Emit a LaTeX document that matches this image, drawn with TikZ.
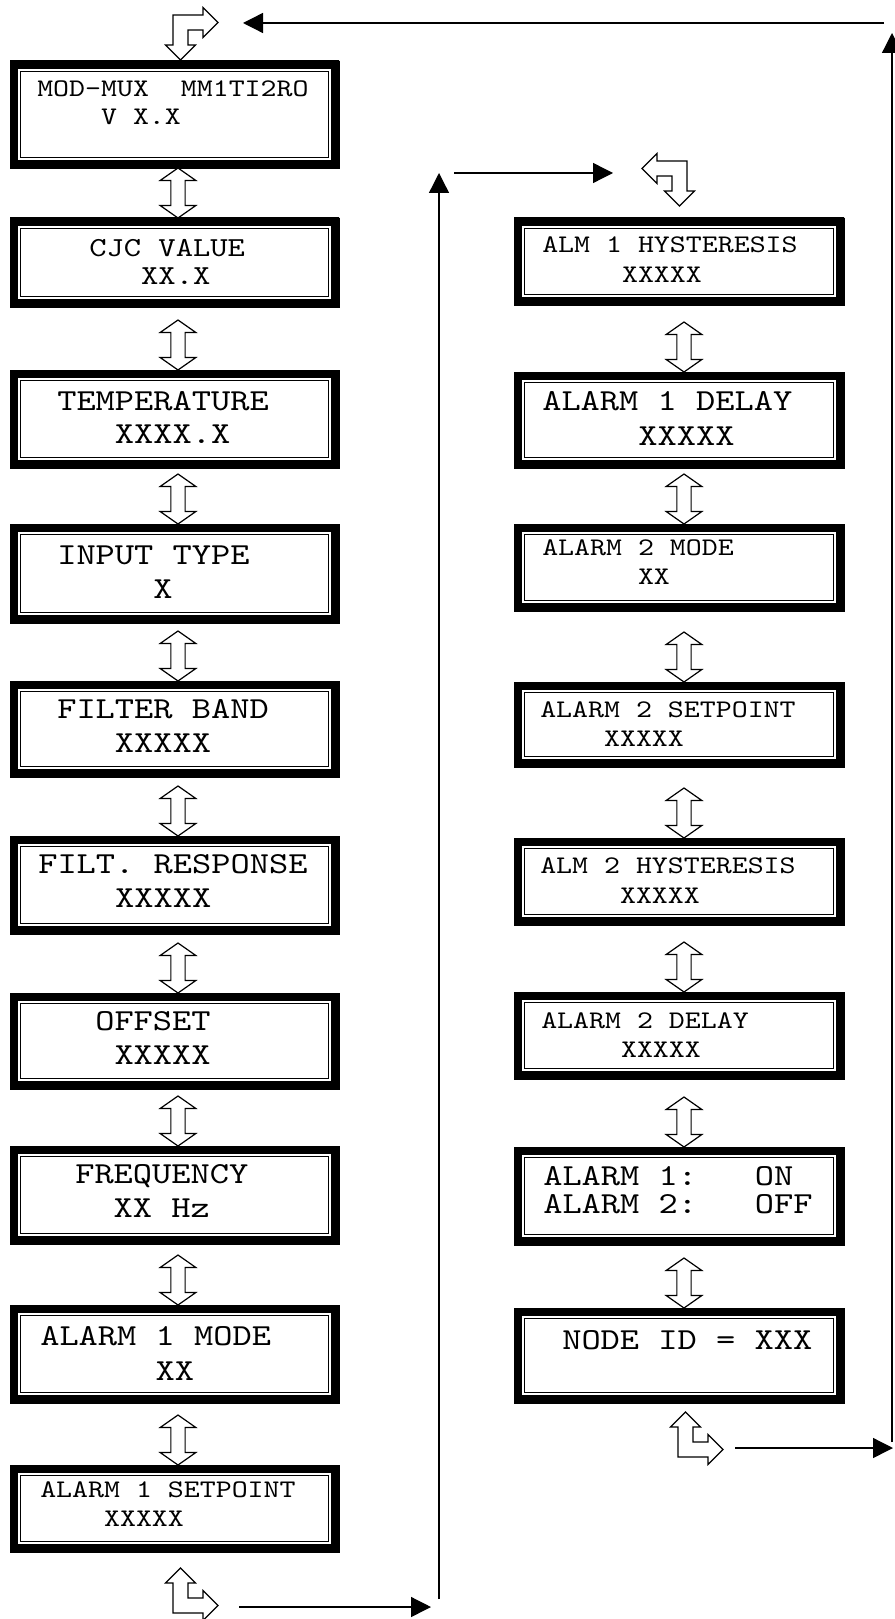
\documentclass[tikz,border=0pt]{standalone}
\usepackage{fontspec}
\newfontfamily\lcdfont{lmmono10-regular.otf}[FakeStretch=1.2]
\usetikzlibrary{arrows.meta,positioning,fit,shapes.arrows}
\tikzset{lcd/.style={draw=black,line width=0.5pt,inner sep=0pt,path picture={\draw[line width=12pt] (path picture bounding box.north west) rectangle (path picture bounding box.south east);\draw[line width=0.9pt] ([shift={(7.9pt,-7.9pt)}]path picture bounding box.north west) rectangle ([shift={(-7.9pt,7.9pt)}]path picture bounding box.south east);}},
txts/.style={font=\lcdfont\fontsize{19pt}{21.75pt}\selectfont,anchor=base west,inner sep=0pt,align=left},
txtm/.style={font=\lcdfont\fontsize{20.6pt}{21pt}\selectfont,anchor=base west,inner sep=0pt,align=left},
txtl/.style={font=\lcdfont\fontsize{22.9pt}{25.5pt}\selectfont,anchor=base west,inner sep=0pt,align=left},
updown/.style={double arrow,draw=black,line width=0.9pt,fill=white,shape border rotate=90,inner sep=4.9pt,minimum width=26pt,double arrow head extend=8pt,double arrow tip angle=110,minimum height=37.5pt},
flow/.style={-{Triangle[length=15pt,width=15pt]},line width=1pt},
turnarrow/.pic={\draw[line width=0.9pt,fill=white] (0,0) -- (0,-30) -- (-7.5,-30) -- (7.5,-45) -- (22.5,-30) -- (15,-30) -- (15,-15) -- (30,-15) -- (30,-22.5) -- (45,-7.5) -- (30,7.5) -- (30,0) -- cycle;}}
\begin{document}
\begin{tikzpicture}[x=0.75pt,y=-0.75pt]
\useasboundingbox (0,0) rectangle (894,1619);
% display boxes
\foreach \name/\ya/\yb in {l1/61/168,l2/218/307,l3/370/468,l4/524/623,l5/681/777,l6/836/934,l7/993/1089,l8/1146/1244,l9/1305/1403,l10/1465/1552}
\node[lcd,fit={(10,\ya) (339,\yb)}] (\name) {};
\foreach \name/\ya/\yb in {r1/218/305,r2/372/468,r3/524/611,r4/682/767,r5/838/925,r6/992/1079,r7/1147/1245,r8/1308/1403}
\node[lcd,fit={(514,\ya) (844,\yb)}] (\name) {};
% texts (placed at the baseline of the last line)
\node[txts,font=\lcdfont\fontsize{19pt}{21pt}\selectfont] (l1txt) at (37,125) {MOD-MUX\ \ MM1TI2RO\\\ \ \ \ V X.X};
\node[txtm] (l2txt) at (89,285) {CJC VALUE\\\ \ \ XX.X};
\node[txtl,font=\lcdfont\fontsize{22.9pt}{24.75pt}\selectfont] (l3txt) at (57,443) {TEMPERATURE\\\ \ \ XXXX.X};
\node[txtl] (l4txt) at (57,598) {INPUT TYPE\\\ \ \ \ \ X};
\node[txtl] (l5txt) at (57,752) {FILTER BAND\\\ \ \ XXXXX};
\node[txtl] (l6txt) at (38,907) {FILT. RESPONSE\\\ \ \ \ XXXXX};
\node[txtl] (l7txt) at (95,1064) {OFFSET\\\ XXXXX};
\node[txtl] (l8txt) at (75,1217) {FREQUENCY\\\ \ XX Hz};
\node[txtl,font=\lcdfont\fontsize{22.9pt}{26.25pt}\selectfont] (l9txt) at (40,1380) {ALARM 1 MODE\\\ \ \ \ \ \ XX};
\node[txts] (l10txt) at (40,1526) {ALARM 1 SETPOINT\\\ \ \ \ XXXXX};
\node[txts,font=\lcdfont\fontsize{19pt}{22.5pt}\selectfont] (r1txt) at (542,283) {ALM 1 HYSTERESIS\\\ \ \ \ \ XXXXX};
\node[txtl,font=\lcdfont\fontsize{22.9pt}{26.25pt}\selectfont] (r2txt) at (542,445) {ALARM 1 DELAY\\\ \ \ \ \ XXXXX};
\node[txts] (r3txt) at (542,584) {ALARM 2 MODE\\\ \ \ \ \ \ XX};
\node[txts] (r4txt) at (540,746) {ALARM 2 SETPOINT\\\ \ \ \ XXXXX};
\node[txts,font=\lcdfont\fontsize{19pt}{22.5pt}\selectfont] (r5txt) at (540,903) {ALM 2 HYSTERESIS\\\ \ \ \ \ XXXXX};
\node[txts] (r6txt) at (541,1057) {ALARM 2 DELAY\\\ \ \ \ \ XXXXX};
\node[txtl,font=\lcdfont\fontsize{22.9pt}{21pt}\selectfont] (r7txt) at (543,1213) {ALARM 1:\ \ \ ON\\ALARM 2:\ \ \ OFF};
\node[txtl] (r8txt) at (562,1349) {NODE ID = XXX};
% up/down arrows between boxes
\foreach \name/\xx/\yy in {a1/178/193,a2/178/345,a3/178/499,a4/178/656,a5/178/811,a6/178/968,a7/178/1121,a8/178/1280,a9/178/1440,b1/684/347,b2/684/499,b3/684/657,b4/684/813,b5/684/967,b6/684/1122,b7/684/1283}
\node[updown] (\name) at (\xx,\yy) {};
% turning arrows
\pic[yscale=-1] at (173,15) {turnarrow};
\pic[rotate=180] at (687,161) {turnarrow};
\pic at (678,1457) {turnarrow};
\pic at (173,1613) {turnarrow};
% return lines
\coordinate (lbo) at (239,1607);
\coordinate (lbe) at (431,1607);
\coordinate (upa) at (439,1599);
\coordinate (upb) at (439,173);
\coordinate (rta) at (454,173);
\coordinate (rtb) at (613,173);
\coordinate (rbo) at (735,1448);
\coordinate (rbe) at (893,1448);
\coordinate (rva) at (892,1442);
\coordinate (rvb) at (892,33);
\coordinate (tpa) at (884,23);
\coordinate (tpb) at (243,23);
\draw[flow] (lbo) -- (lbe);
\draw[flow] (upa) -- (upb);
\draw[flow] (rta) -- (rtb);
\draw[flow] (rbo) -- (rbe);
\draw[flow] (rva) -- (rvb);
\draw[flow] (tpa) -- (tpb);
\end{tikzpicture}
\end{document}
